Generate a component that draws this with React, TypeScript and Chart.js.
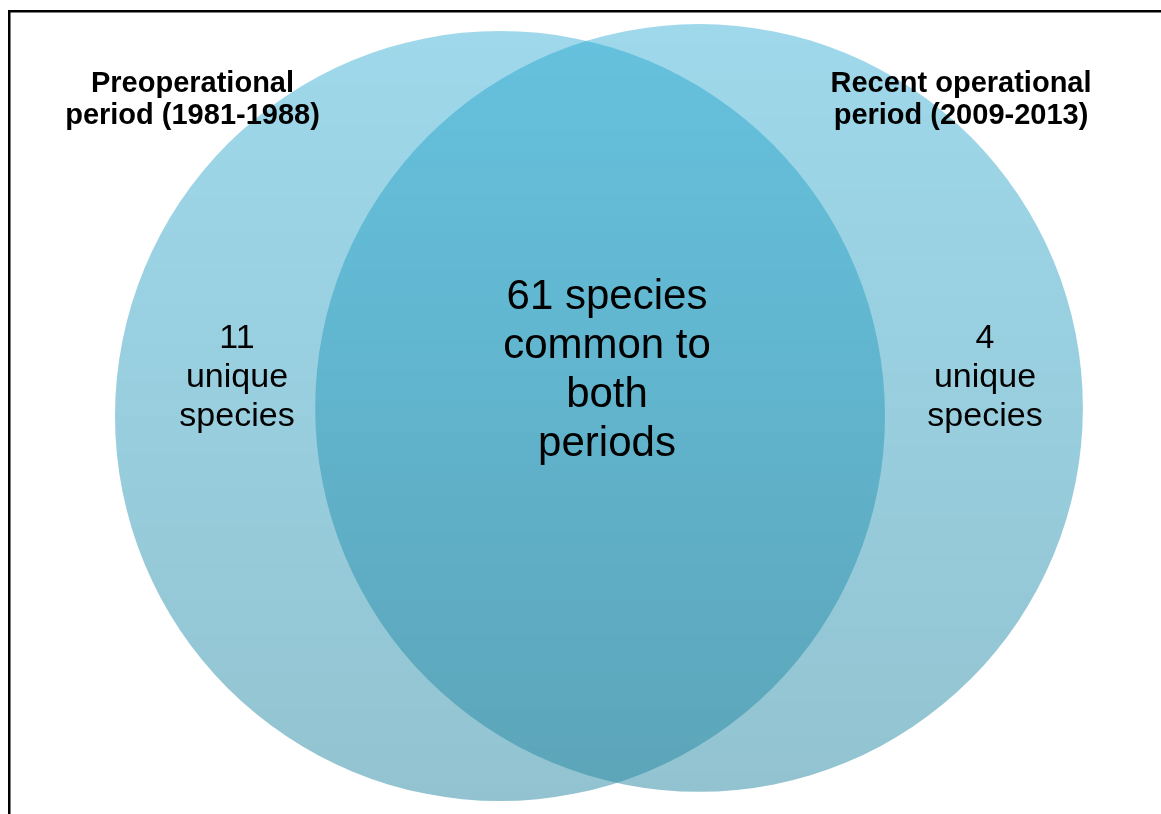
import React, { useEffect, useRef } from "react";
import { Chart, registerables } from "chart.js";

Chart.register(...registerables);

// ---- data ----
const setLabels: string[][] = [
  ["Preoperational", "period (1981-1988)"],
  ["Recent operational", "period (2009-2013)"],
];
const uniqueCounts: number[] = [11, 4];
const commonCount = 61;
// circle geometry in diagram units (radius of left circle = 1)
const circleCenterX: number[] = [0, 0.517];
const circleCenterY: number[] = [0, 0.021];
const circleRadius: number[] = [1, 0.997];

// ---- layout / style ----
const W = 1161;
const H = 814;
const X_MIN = -1.2987;
const X_MAX = X_MIN + W / 385;
const Y_MAX = 1.0805;
const Y_MIN = Y_MAX - H / 385;

const FONT = '"Liberation Sans", Arial, Helvetica, sans-serif';

const headerPos = [
  { x: 192.5, y: [92, 124] },
  { x: 961, y: [92, 124] },
];
const uniquePos = [
  { x: 237, y: [348, 387, 426] },
  { x: 985, y: [348, 387, 426] },
];
const commonPos = { x: 607, y: [309, 358, 407, 456] };

const labelsPlugin = {
  id: "vennLabels",
  afterDraw(chart: any) {
    const ctx = chart.ctx as CanvasRenderingContext2D;
    ctx.save();
    // frame
    ctx.fillStyle = "#000";
    ctx.fillRect(8, 10, 2.5, 900);
    ctx.fillRect(8, 10, 1200, 2.5);

    ctx.textAlign = "center";
    ctx.textBaseline = "alphabetic";
    ctx.fillStyle = "#000";

    ctx.font = `bold 29px ${FONT}`;
    setLabels.forEach((lines, i) => {
      lines.forEach((t, j) => ctx.fillText(t, headerPos[i].x, headerPos[i].y[j]));
    });

    ctx.font = `34px ${FONT}`;
    uniqueCounts.forEach((n, i) => {
      const lines = [String(n), "unique", "species"];
      lines.forEach((t, j) => ctx.fillText(t, uniquePos[i].x, uniquePos[i].y[j]));
    });

    ctx.font = `42px ${FONT}`;
    const common = [`${commonCount} species`, "common to", "both", "periods"];
    common.forEach((t, j) => ctx.fillText(t, commonPos.x, commonPos.y[j]));
    ctx.restore();
  },
};

const TOP_COLOR = "rgba(24,162,205,0.42)";
const BOTTOM_COLOR = "rgba(39,135,161,0.5)";

export default function App() {
  const ref = useRef<HTMLCanvasElement | null>(null);

  useEffect(() => {
    document.body.style.margin = "0";
    document.body.style.overflow = "hidden";
    const canvas = ref.current;
    if (!canvas) return;

    const radiusPx = (chart: any, i: number) => {
      const sx = chart.scales && chart.scales.x;
      if (!sx) return 0;
      const r = sx.getPixelForValue(circleCenterX[i] + circleRadius[i]) - sx.getPixelForValue(circleCenterX[i]);
      return Number.isFinite(r) ? r : 0;
    };

    const chart = new Chart(canvas, {
      type: "scatter",
      data: {
        datasets: [
          {
            label: "sets",
            data: circleCenterX.map((x, i) => ({ x, y: circleCenterY[i] })),
            pointRadius: (c: any) => radiusPx(c.chart, c.dataIndex),
            pointHoverRadius: (c: any) => radiusPx(c.chart, c.dataIndex),
            pointBorderWidth: 0,
            pointHoverBorderWidth: 0,
            pointBackgroundColor: (c: any) => {
              const chart = c.chart;
              const i = c.dataIndex;
              const sy = chart.scales && chart.scales.y;
              if (!sy || i === undefined) return TOP_COLOR;
              const top = sy.getPixelForValue(circleCenterY[i] + circleRadius[i]);
              const bottom = sy.getPixelForValue(circleCenterY[i] - circleRadius[i]);
              if (!Number.isFinite(top) || !Number.isFinite(bottom) || top === bottom) return TOP_COLOR;
              const g = chart.ctx.createLinearGradient(0, top, 0, bottom);
              g.addColorStop(0, TOP_COLOR);
              g.addColorStop(1, BOTTOM_COLOR);
              return g;
            },
            pointBorderColor: "rgba(0,0,0,0)",
          } as any,
        ],
      },
      options: {
        responsive: false,
        animation: false,
        devicePixelRatio: 1,
        events: [],
        layout: { padding: 0 },
        plugins: {
          legend: { display: false },
          tooltip: { enabled: false },
        },
        scales: {
          x: { type: "linear", min: X_MIN, max: X_MAX, display: false },
          y: { type: "linear", min: Y_MIN, max: Y_MAX, display: false },
        },
      },
      plugins: [labelsPlugin],
    });
    return () => chart.destroy();
  }, []);

  return (
    <canvas
      ref={ref}
      width={W}
      height={H}
      style={{ display: "block", width: W, height: H }}
    />
  );
}
